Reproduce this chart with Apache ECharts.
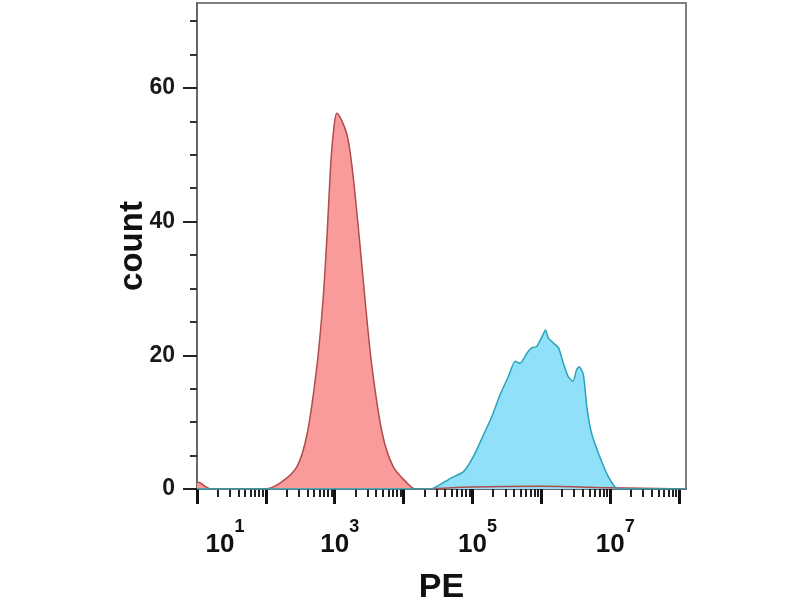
<!DOCTYPE html>
<html>
<head>
<meta charset="utf-8">
<script src="https://cdn.jsdelivr.net/npm/echarts@6/dist/echarts.min.js"></script>
<style>
html,body{margin:0;padding:0;background:#fff;}
#main{width:800px;height:600px;}
</style>
</head>
<body>
<div id="main"></div>
<script>
// x values are log10(PE)
var redX = [1.0, 1.05, 1.12, 1.2, 1.99, 2.21, 2.45, 2.60, 2.74, 2.83, 2.89, 2.94, 2.98, 3.03, 3.17, 3.25, 3.35, 3.44, 3.54, 3.69, 3.85, 4.05, 4.17, 5.0, 6.0, 7.0, 8.1];
var redCount = [1.0, 0.9, 0.4, 0, 0, 0.9, 3.3, 8.3, 18.3, 28.3, 38.3, 48.3, 53.3, 56.2, 53.3, 48.3, 38.3, 28.3, 18.3, 8.3, 3.3, 0.9, 0, 0.3, 0.4, 0.2, 0];
var blueX = [1.0, 4.3, 4.43, 4.68, 4.87, 5.01, 5.16, 5.28, 5.40, 5.52, 5.62, 5.69, 5.79, 5.86, 5.93, 6.01, 6.06, 6.10, 6.18, 6.25, 6.32, 6.39, 6.46, 6.51, 6.55, 6.61, 6.66, 6.73, 6.83, 6.95, 7.07, 7.14, 8.1];
var blueCount = [0, 0, 0.1, 1.6, 2.6, 4.8, 8.1, 10.8, 14.1, 16.8, 19.1, 18.8, 20.3, 21.1, 21.3, 22.8, 23.8, 22.6, 21.8, 21.1, 18.8, 16.8, 16.1, 17.8, 18.3, 17.1, 12.3, 8.3, 5.3, 2.3, 0.3, 0, 0];

var xDecades = [1, 2, 3, 4, 5, 6, 7, 8];
var xLabelDecades = [1, 3, 5, 7];
var minorMult = [2, 3, 4, 5, 6, 7, 8, 9];
var yMajor = [0, 20, 40, 60];
var yMinor = [0, 5, 10, 15, 20, 25, 30, 35, 40, 45, 50, 55, 60, 65, 70];

var xMinor = [];
for (var d = 1; d < 8; d++) {
  for (var k = 0; k < minorMult.length; k++) xMinor.push(d + Math.log10(minorMult[k]));
}

function pairs(xs, ys) {
  var out = [];
  for (var i = 0; i < xs.length; i++) out.push([xs[i], ys[i]]);
  return out;
}

var myChart = echarts.init(document.getElementById('main'));
var font = 'Liberation Sans, Arial, sans-serif';
var option = {
  animation: false,
  grid: {left: 197, top: 3, width: 489, height: 486, outerBoundsMode: 'none', containLabel: false,
    show: true, borderColor: '#808080', borderWidth: 2},
  xAxis: [{
    type: 'value', min: 1, max: 8.1,
    name: 'PE', nameLocation: 'middle', nameGap: 82, nameMoveOverlap: false,
    nameTextStyle: {fontSize: 34, fontWeight: 'bold', color: '#111', fontFamily: font},
    axisLine: {lineStyle: {color: '#666', width: 2}},
    axisTick: {customValues: xDecades, length: 15, lineStyle: {color: '#111', width: 3}},
    splitLine: {show: false},
    axisLabel: {
      customValues: xLabelDecades, margin: 29, color: '#111',
      formatter: function (v) {
        return (v === 1 ? '{sp1|}' : '{sp|}') + '{b|10}{s|' + v + '}';
      },
      rich: {
        sp: {width: 10, lineHeight: 40},
        sp1: {width: 56, lineHeight: 40},
        b: {fontSize: 26, fontWeight: 'bold', fontFamily: 'Liberation Sans Narrow, ' + font, lineHeight: 40, verticalAlign: 'bottom', color: '#111'},
        s: {fontSize: 18, fontWeight: 'bold', fontFamily: font, lineHeight: 16, verticalAlign: 'top', color: '#111'}
      }
    }
  }, {
    type: 'value', min: 1, max: 8.1, position: 'bottom',
    axisLine: {show: false},
    axisTick: {customValues: xMinor, length: 8, lineStyle: {color: '#222', width: 2}},
    axisLabel: {show: false},
    splitLine: {show: false}
  }],
  yAxis: [{
    type: 'value', min: 0, max: 72.7,
    name: 'count', nameLocation: 'middle', nameGap: 48, nameRotate: 90, nameMoveOverlap: false,
    nameTextStyle: {fontSize: 33, fontWeight: 'bold', color: '#111', fontFamily: font},
    axisLine: {show: true, lineStyle: {color: '#666', width: 2}},
    axisTick: {customValues: yMinor, length: 7, lineStyle: {color: '#333', width: 2}},
    axisLabel: {customValues: yMajor, margin: 22, fontSize: 23, fontWeight: 'bold', color: '#1a1a1a', fontFamily: font},
    splitLine: {show: false}
  }, {
    type: 'value', min: 0, max: 72.7, position: 'left',
    axisLine: {show: false},
    axisTick: {customValues: yMajor, length: 14, lineStyle: {color: '#222', width: 2}},
    axisLabel: {show: false},
    splitLine: {show: false}
  }],
  series: [{
    type: 'line', data: pairs(redX, redCount),
    showSymbol: false, smooth: 0.3,
    lineStyle: {color: '#b04c4c', width: 1.5},
    areaStyle: {color: '#f99b9b', opacity: 1}
  }, {
    type: 'line', data: pairs(blueX, blueCount),
    showSymbol: false, smooth: 0.2,
    lineStyle: {color: '#2aa4b6', width: 1.5},
    areaStyle: {color: '#90e0fa', opacity: 1}
  }]
};
myChart.setOption(option);
</script>
</body>
</html>
